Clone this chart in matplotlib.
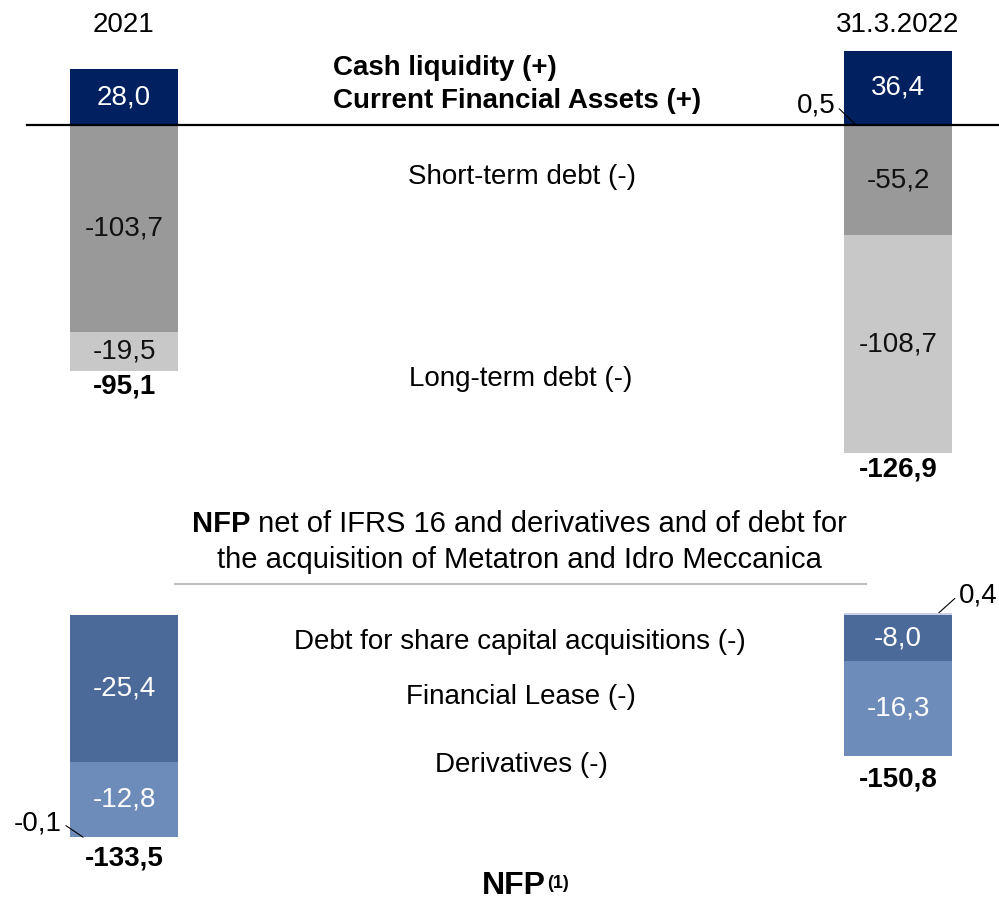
import numpy as np
import matplotlib.pyplot as plt

plt.rcParams['font.family'] = ['Liberation Sans', 'DejaVu Sans']

# net financial position bridge, values in EUR m
periods = ['2021', '31.3.2022']
cash = [28.0, 36.4]
fin_assets = [0.0, 0.5]
short_debt = [-103.7, -55.2]
long_debt = [-19.5, -108.7]
nfp_adj = [-95.1, -126.9]

share_debt = [-25.4, -8.0]
lease = [-12.8, -16.3]
derivatives = [-0.1, 0.4]
nfp = [-133.5, -150.8]

W, H = 999, 911
fig = plt.figure(figsize=(W / 100, H / 100), dpi=100)

NAVY = '#002060'
GREY = '#999999'
LGREY = '#c8c8c8'
BLUE = '#4b6a9a'
LBLUE = '#6e8cb9'
PALE = '#c9d1e4'
FS = 20


def fmt(v):
    return f'{v:.1f}'.replace('.', ',')


# overlay for free text, in pixel units (y grows downwards)
ax_t = fig.add_axes([0, 0, 1, 1])
ax_t.set_xlim(0, W)
ax_t.set_ylim(H, 0)
ax_t.axis('off')


def band_axes(top, bottom, zero, scale):
    ax = fig.add_axes([0, 1 - bottom / H, 1, (bottom - top) / H])
    ax.set_xlim(0, W)
    ax.set_ylim(-(bottom - zero) / scale, (zero - top) / scale)
    ax.axis('off')
    return ax


xpos = [124, 898]
bw = 108


def stack(ax, series, colors, label_colors):
    pos = np.zeros(len(xpos))
    neg = np.zeros(len(xpos))
    for vals, col, lc in zip(series, colors, label_colors):
        vals = np.array(vals)
        base = np.where(vals >= 0, pos, neg)
        ax.bar(xpos, vals, bottom=base, width=bw, color=col, linewidth=0)
        for x, b, v in zip(xpos, base, vals):
            if lc is not None and abs(v) > 2:
                ax.text(x, b + v / 2, fmt(v), ha='center', va='center',
                        fontsize=FS, color=lc)
        pos = np.where(vals >= 0, pos + vals, pos)
        neg = np.where(vals < 0, neg + vals, neg)
    return pos, neg


def leader(ax, value, xy, text_px, side):
    # small value written beside the bar, tied to it by a thin line
    ax.annotate(fmt(value), xy, xytext=(text_px[0], H - text_px[1]),
                textcoords='figure pixels', ha='center', va='center',
                fontsize=FS,
                arrowprops=dict(arrowstyle='-', lw=0.8, color='black',
                                relpos=(side, 0.5), shrinkA=1, shrinkB=0))


# upper block: cash and debt around the zero line
ax1 = band_axes(0, 500, 125, 2.0)
pos1, neg1 = stack(ax1, [fin_assets, cash, short_debt, long_debt],
                   [NAVY, NAVY, GREY, LGREY],
                   [None, 'white', '#111111', '#111111'])
ax1.axhline(0, xmin=27 / W, xmax=1, color='black', lw=1.6)
for x, b, v, off in zip(xpos, neg1, nfp_adj, [1.5, 3]):
    ax1.annotate(fmt(v), (x, b), xytext=(0, -off), textcoords='offset points',
                 ha='center', va='top', fontsize=FS, fontweight='bold')
leader(ax1, fin_assets[1], (xpos[1] - bw / 2 + 12, 0), (816, 105), 1)

# lower block: debt items excluded from the adjusted NFP
ax2 = band_axes(590, 911, 615, 5.8)
pos2, neg2 = stack(ax2, [share_debt, lease, derivatives],
                   [BLUE, LBLUE, PALE],
                   ['white', 'white', None])
for x, b, v, off in zip(xpos, neg2, nfp, [6, 7.5]):
    ax2.annotate(fmt(v), (x, b), xytext=(0, -off), textcoords='offset points',
                 ha='center', va='top', fontsize=FS, fontweight='bold')
leader(ax2, derivatives[0], (xpos[0] - bw / 2 + 13, neg2[0]), (38, 823), 1)
leader(ax2, derivatives[1], (xpos[1] + bw / 2 - 13, pos2[1]), (978, 595), 0)

# headers and row captions
for x, p in zip(xpos, periods):
    ax_t.text(x, 25, p, ha='center', va='center', fontsize=FS)
ax_t.text(333, 68, 'Cash liquidity (+)', ha='left', va='center',
          fontsize=FS, fontweight='bold')
ax_t.text(333, 101, 'Current Financial Assets (+)', ha='left', va='center',
          fontsize=FS, fontweight='bold')
ax_t.text(522, 177, 'Short-term debt (-)', ha='center', va='center', fontsize=FS)
ax_t.text(521, 379, 'Long-term debt (-)', ha='center', va='center', fontsize=FS)

ax_t.text(192, 524, 'NFP', ha='left', va='center', fontsize=21, fontweight='bold')
ax_t.text(250, 524, ' net of IFRS 16 and derivatives and of debt for',
          ha='left', va='center', fontsize=21)
ax_t.text(519, 560, 'the acquisition of Metatron and Idro Meccanica',
          ha='center', va='center', fontsize=21)
ax_t.plot([175, 866], [584, 584], color='#bfbfbf', lw=1.5)

ax_t.text(520, 642, 'Debt for share capital acquisitions (-)',
          ha='center', va='center', fontsize=FS)
ax_t.text(521, 697, 'Financial Lease (-)', ha='center', va='center', fontsize=FS)
ax_t.text(521, 765, 'Derivatives (-)', ha='center', va='center', fontsize=FS)

ax_t.text(482, 886, 'NFP', ha='left', va='center', fontsize=23, fontweight='bold')
ax_t.text(547, 883, '(1)', ha='left', va='center', fontsize=13, fontweight='bold')

fig.savefig('out.png', dpi=100)
